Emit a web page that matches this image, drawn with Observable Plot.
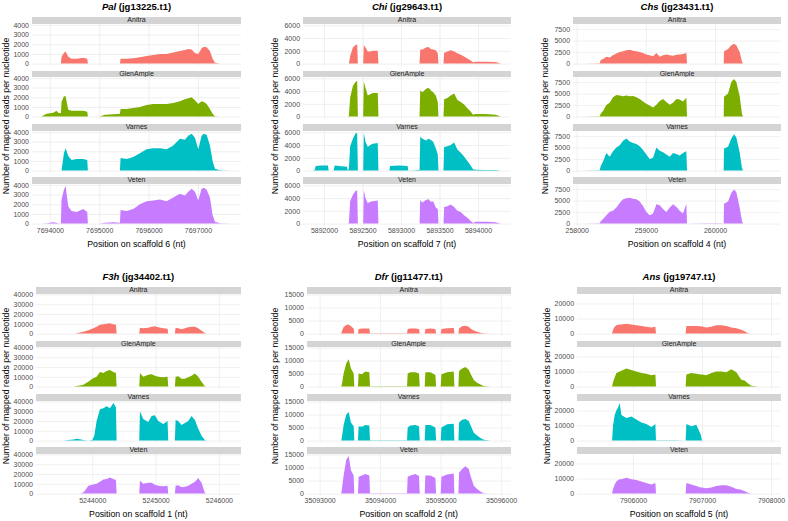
<!DOCTYPE html>
<html><head><meta charset="utf-8">
<script src="https://cdn.jsdelivr.net/npm/d3@7"></script>
<script src="https://cdn.jsdelivr.net/npm/@observablehq/plot@0.6"></script>
<style>
body{margin:0;background:#fff;}
#root{position:relative;width:788px;height:521px;overflow:hidden;background:#fff;font-family:'Liberation Sans',Arial,Helvetica,sans-serif;}
.strip{position:absolute;background:#d4d4d4;color:#1a1a1a;font-size:7px;text-align:center;overflow:hidden;}
.ttl{position:absolute;text-align:center;font-weight:bold;font-size:9.5px;color:#000;white-space:nowrap;}
.axt{position:absolute;font-size:8.75px;color:#000;white-space:nowrap;}
</style></head>
<body><div id="root"></div>
<script>
const varieties = ["Anitra", "GlenAmple", "Varnes", "Veten"];
const varietyColors = ["#F8766D", "#7CAE00", "#00BFC4", "#C77CFF"];

// ---- Pal (jg13225.t1), scaffold 6
const palPos = [7693830,7693932,7694068,7694135,7694169,7694223,7694236,7694284,7694318,7694372,7694439,7694541,7694676,7694757,7694770,7695014,7695115,7695284,7695419,7695432,7695554,7695689,7695824,7695959,7696095,7696230,7696365,7696500,7696635,7696736,7696804,7696872,7696939,7697007,7697074,7697122,7697176,7697243,7697297,7697345,7697446,7697680];
const palAnitra = [0,0,0,0,0,0,700,1100,1250,700,500,500,600,500,0,10,10,10,10,500,500,550,650,800,900,1000,1000,1150,1300,1400,1500,1450,1100,1000,1600,1750,1700,1300,500,100,20,0];
const palGlen = [0,300,400,600,400,350,1500,2100,2100,700,600,600,600,500,0,20,200,250,300,800,800,900,1000,1200,1300,1300,1300,1400,1600,1800,1900,2000,1700,1300,1600,1500,1300,800,300,50,10,0];
const palVarnes = [0,0,0,0,0,0,0,1800,2300,1500,1100,1200,1200,1100,0,20,20,20,20,1300,1200,1400,1800,2200,2300,2300,2200,2600,3300,3200,3600,3800,3400,2200,3600,3800,3700,2600,1000,200,30,0];
const palVeten = [0,50,150,100,50,0,2500,3500,3900,1800,1300,1200,1500,1200,0,20,100,150,100,1400,1300,1500,2000,2300,2400,2500,2300,2700,3100,2900,3300,3600,3300,2400,3600,3700,3500,2700,900,200,30,0];
const palXTicks = [7694000,7695000,7696000,7697000];
const palYTicks = [0,1000,2000,3000,4000];

// ---- Chi (jg29643.t1), scaffold 7
const chiPos = [5891850,5891879,5891892,5891966,5892052,5892060,5892125,5892138,5892203,5892297,5892310,5892323,5892340,5892375,5892409,5892431,5892440,5892509,5892517,5892539,5892569,5892599,5892634,5892698,5892707,5892850,5892858,5892978,5893086,5893095,5893241,5893250,5893280,5893323,5893358,5893388,5893418,5893452,5893478,5893487,5893552,5893560,5893603,5893646,5893690,5893733,5893776,5893819,5893862,5893905,5893935,5893970,5894099,5894228,5894298];
const chiAnitra = [0,0,0,0,0,0,0,0,0,0,0,0,1200,2500,2900,3000,0,0,2900,2500,1900,1900,2000,2000,0,0,0,0,0,0,0,2200,2200,2500,2600,2300,2200,2100,1600,0,0,1700,1900,2100,1900,1600,1400,1100,800,500,200,300,300,250,0];
const chiGlen = [0,0,0,20,20,20,20,20,20,20,20,100,3000,4800,5400,5600,0,0,5500,4500,3300,3500,3700,3700,0,30,30,30,30,30,30,4100,3800,4300,4500,4100,3800,3300,2300,0,0,2700,2900,3300,3600,2600,2300,1900,1300,800,300,400,400,300,0];
const chiVarnes = [0,100,700,800,800,0,0,800,700,600,0,300,3800,5000,5800,5900,0,0,5900,4500,3700,4000,4200,4300,0,0,700,800,700,0,100,5300,5000,4700,5000,4800,4500,3500,2500,0,0,3700,3800,4000,4400,3300,2800,2200,1500,800,200,150,100,100,0];
const chiVeten = [0,0,0,0,0,0,0,0,0,0,0,100,3500,4500,5100,5200,0,0,5200,4000,3200,3400,3500,3600,0,0,0,0,0,0,0,3700,3300,3700,3800,3400,3500,2500,2300,0,0,2600,2700,3000,2600,2000,1800,1300,900,400,100,300,300,200,0];
const chiXTicks = [5892000,5892500,5893000,5893500,5894000];
const chiYTicks = [0,2000,4000,6000];

// ---- Chs (jg23431.t1), scaffold 4
const chsPos = [258083,258333,258347,258381,258429,258477,258525,258573,258622,258670,258718,258766,258814,258863,258911,258959,259007,259055,259104,259152,259200,259248,259296,259345,259393,259441,259489,259537,259585,259595,259851,260091,260125,260130,260188,260236,260275,260308,260356,260390,260405,260808];
const chsAnitra = [0,100,800,1000,1500,1300,1800,2200,2500,2700,2900,3000,2800,2700,2500,2300,2000,1800,1600,2300,1500,1800,2000,1800,1700,1900,2000,2100,2300,0,0,0,0,2700,3200,4000,4300,4000,2500,400,0,0];
const chsGlen = [0,100,600,1200,2500,3000,4200,4700,4600,4400,4600,4400,4500,4200,3800,3300,2800,2400,2000,2600,3400,3800,3200,2600,3000,3800,3700,3300,4100,0,30,30,0,4300,5000,7500,8200,7500,4500,500,0,0];
const chsVarnes = [0,50,1000,2000,3800,3000,4200,5000,5500,6500,7000,6300,6000,5800,5300,4500,3500,2500,2800,5000,4300,4000,3500,3000,3800,3600,3300,3800,4200,0,20,20,0,4800,5200,7000,7900,7200,4000,500,0,0];
const chsVeten = [0,50,500,1000,1800,2600,2800,3500,4500,5300,5500,5600,5400,5300,4800,3800,2500,1800,2200,4200,4000,3200,2500,3500,4200,3600,2800,2200,4300,0,100,100,0,4300,4800,6700,7400,6800,3500,500,0,0];
const chsXTicks = [258000,259000,260000];
const chsYTicks = [0,2500,5000,7500];

// ---- F3h (jg34402.t1), scaffold 1
const f3hPos = [5243258,5243542,5243700,5243753,5243805,5243858,5243884,5243937,5244000,5244032,5244068,5244121,5244174,5244226,5244279,5244332,5244374,5244384,5244542,5244742,5244753,5244805,5244884,5244937,5244989,5245042,5245121,5245189,5245200,5245305,5245316,5245358,5245410,5245463,5245516,5245568,5245621,5245674,5245726,5245779,5245805,5246016,5246197];
const f3hAnitra = [0,0,100,300,1000,2000,2500,3500,5000,6000,7000,9000,9500,10000,10500,9500,9000,0,0,0,6000,5500,6000,7000,7500,6500,5500,5000,0,0,6000,5500,4500,5500,6500,7000,7000,5500,3000,500,0,0,0];
const f3hGlen = [0,100,200,500,1000,2000,3000,5000,8000,9000,10000,15000,14000,16000,17000,15000,14000,0,200,200,14000,10000,12000,12500,11000,10000,9500,10000,0,0,10000,10500,8000,8000,9500,11000,13500,10000,5000,300,200,100,0];
const f3hVarnes = [0,0,1000,2000,1500,500,300,200,500,5000,20000,32000,33000,35000,33000,38500,34000,0,200,200,30000,22000,19000,25000,26000,20000,17000,20000,0,0,21000,20000,16000,18000,20000,25000,21000,12000,5000,500,100,0,0];
const f3hVeten = [0,0,0,0,0,1000,3000,8000,9000,9500,10000,12000,14500,15000,16500,15000,14000,0,0,0,13000,10000,11000,11000,9000,8000,7500,8000,0,0,8000,8500,6500,7000,8000,10000,12000,16000,11000,500,0,0,0];
const f3hXTicks = [5244000,5245000,5246000];
const f3hYTicks = [0,10000,20000,30000,40000];

// ---- Dfr (jg11477.t1), scaffold 2
const dfrPos = [35092945,35093121,35093358,35093370,35093397,35093441,35093480,35093518,35093563,35093574,35093634,35093645,35093700,35093756,35093822,35093833,35094114,35094445,35094456,35094500,35094583,35094643,35094655,35094737,35094748,35094831,35094914,35094925,35095002,35095013,35095107,35095217,35095228,35095294,35095305,35095355,35095410,35095465,35095493,35095548,35095603,35095658,35095713,35095824,35096010];
const dfrAnitra = [0,0,0,1000,2500,3300,3500,2800,2000,0,0,1800,2000,2000,2000,100,100,100,1800,2000,2000,1800,0,0,1800,2000,1800,0,0,1800,2100,2200,0,0,2000,2800,3000,2600,2000,1200,700,300,100,0,0];
const dfrGlen = [0,0,0,1000,5000,9000,10500,7000,5000,0,0,5000,4800,5800,5500,100,100,100,5000,5500,5500,5000,0,0,5500,5500,4500,0,0,4800,5500,5800,0,0,6000,7000,7500,6500,5000,2500,1500,800,200,0,0];
const dfrVarnes = [0,0,0,1500,6000,10000,11000,7000,5500,0,0,5500,5300,6000,5800,100,100,100,5000,5800,6000,5500,0,0,6000,6000,5000,0,0,5000,6300,6500,0,0,7000,8000,8300,7500,6000,3000,2000,1000,300,0,0];
const dfrVeten = [0,0,0,2000,7000,13000,14500,9000,7000,0,0,6500,7000,7500,7000,100,100,100,6500,7000,7500,6800,0,0,7000,7000,6000,0,0,6500,7300,7700,0,0,8000,9500,10500,9500,7000,3000,1800,800,100,0,0];
const dfrXTicks = [35093000,35094000,35095000,35096000];
const dfrYTicks = [0,5000,10000,15000];

// ---- Ans (jg19747.t1), scaffold 5
const ansPos = [7905322,7905696,7905710,7905734,7905758,7905783,7905807,7905831,7905903,7905976,7906048,7906121,7906193,7906266,7906324,7906333,7906604,7906763,7906773,7906845,7906918,7906981,7907000,7907063,7907135,7907208,7907280,7907353,7907425,7907498,7907570,7907618,7907667,7907715,7907812,7908002];
const ansAnitra = [0,0,2500,4500,5500,5800,6000,6000,6500,6000,5500,5000,4500,4000,4500,0,0,0,5000,5000,5000,4800,4700,4000,4500,5500,5500,5000,4000,3500,2500,1500,300,0,0,0];
const ansGlen = [0,0,3000,6000,9000,9500,10000,10500,12000,11000,10000,9000,8500,7500,8000,0,100,100,8000,9000,8500,8000,8000,7500,9000,10000,10000,9500,11500,9500,4500,4000,2000,500,100,0];
const ansVarnes = [0,0,10000,17000,20000,22000,25000,17000,15000,16000,14000,12000,11000,9000,11000,200,300,0,11000,9500,10500,4000,0,0,0,0,0,0,0,0,0,0,0,0,0,0];
const ansVeten = [0,0,3000,6000,8000,9000,9500,9500,10500,9500,9000,8000,7000,6000,7000,0,0,0,7000,6000,5000,4000,4000,3500,4000,5000,5500,5500,4500,3000,2500,1500,500,0,0,0];
const ansXTicks = [7906000,7907000,7908000];
const ansYTicks = [0,10000,20000];

const geneNames = ["Pal", "Chi", "Chs", "F3h", "Dfr", "Ans"];
const geneIds = ["jg13225.t1", "jg29643.t1", "jg23431.t1", "jg34402.t1", "jg11477.t1", "jg19747.t1"];
const scaffolds = [6, 7, 4, 1, 2, 5];

const genes = [
  {pos: palPos, vals: [palAnitra, palGlen, palVarnes, palVeten], xt: palXTicks, yt: palYTicks},
  {pos: chiPos, vals: [chiAnitra, chiGlen, chiVarnes, chiVeten], xt: chiXTicks, yt: chiYTicks},
  {pos: chsPos, vals: [chsAnitra, chsGlen, chsVarnes, chsVeten], xt: chsXTicks, yt: chsYTicks},
  {pos: f3hPos, vals: [f3hAnitra, f3hGlen, f3hVarnes, f3hVeten], xt: f3hXTicks, yt: f3hYTicks},
  {pos: dfrPos, vals: [dfrAnitra, dfrGlen, dfrVarnes, dfrVeten], xt: dfrXTicks, yt: dfrYTicks},
  {pos: ansPos, vals: [ansAnitra, ansGlen, ansVarnes, ansVeten], xt: ansXTicks, yt: ansYTicks}
];

// layout (panel left/right edges, y-title x)
const layout = [
  {L: 32, R: 241, yx: 6, row: 0},
  {L: 303.3, R: 510.7, yx: 275, row: 0},
  {L: 573.3, R: 780.7, yx: 545, row: 0},
  {L: 36, R: 240.7, yx: 6, row: 1},
  {L: 306.7, R: 510.7, yx: 275, row: 1},
  {L: 577.3, R: 780.7, yx: 547, row: 1}
];

const FONT = "'Liberation Sans', Arial, Helvetica, sans-serif";
const ROW_H = 270, STRIP_TOP = 17.3, PERIOD = 53.3, STRIP_H = 6.7, PANEL_H = 41.5, ML = 36, XAX = 14;
const root = document.getElementById("root");
const fmt = d => String(d);

function div(cls, html, css) {
  const e = document.createElement("div");
  e.className = cls;
  e.innerHTML = html;
  Object.assign(e.style, css);
  root.appendChild(e);
  return e;
}

genes.forEach((g, gi) => {
  const lay = layout[gi];
  const RY = lay.row * ROW_H;
  const W = lay.R - lay.L;
  const ymax = d3.max(g.vals.flat());
  const yDomain = [-0.05 * ymax, 1.05 * ymax];
  const [x0, x1] = d3.extent(g.pos);
  const xpad = 0.05 * (x1 - x0);
  const xDomain = [x0 - xpad, x1 + xpad];

  div("ttl", `<i>${geneNames[gi]}</i> (${geneIds[gi]})`, {left: lay.L + "px", width: W + "px", top: (RY + 1) + "px", lineHeight: "12px"});

  varieties.forEach((v, k) => {
    const top = RY + STRIP_TOP + k * PERIOD;
    div("strip", v, {left: lay.L + "px", width: W + "px", top: top + "px", height: STRIP_H + "px", lineHeight: STRIP_H + "px"});
    const vals = g.vals[k];
    const n = Math.min(vals.length, g.pos.length);
    const data = d3.range(n).map(i => ({pos: g.pos[i], value: vals[i]}));
    const last = k === varieties.length - 1;
    const svg = Plot.plot({
      width: W + ML,
      height: PANEL_H + (last ? XAX : 0),
      marginLeft: ML, marginRight: 0, marginTop: 0, marginBottom: last ? XAX : 0,
      style: {fontFamily: FONT, fontSize: "7px", color: "#4d4d4d", background: "transparent", overflow: "visible"},
      x: {domain: xDomain, axis: null, label: null},
      y: {domain: yDomain, axis: null, label: null},
      marks: [
        Plot.gridX(g.xt, {stroke: "#e6e6e6", strokeOpacity: 1, strokeWidth: 0.6}),
        Plot.gridY(g.yt, {stroke: "#e6e6e6", strokeOpacity: 1, strokeWidth: 0.6}),
        Plot.areaY(data, {x: "pos", y: "value", fill: varietyColors[k], fillOpacity: 1}),
        Plot.axisY(g.yt, {tickSize: 0, tickPadding: 3.5, tickFormat: fmt, fontSize: 7, label: null}),
        last ? Plot.axisX(g.xt, {tickSize: 0, tickPadding: 2.5, tickFormat: fmt, fontSize: 7, label: null}) : null
      ]
    });
    svg.style.position = "absolute";
    svg.style.left = (lay.L - ML) + "px";
    svg.style.top = (top + STRIP_H) + "px";
    root.appendChild(svg);
  });

  div("axt", `Position on scaffold ${scaffolds[gi]} (nt)`, {left: lay.L + "px", width: W + "px", textAlign: "center", top: (RY + 238.5) + "px", lineHeight: "11px"});
  div("axt", "Number of mapped reads per nucleotide", {left: lay.yx + "px", top: (RY + 116) + "px", transform: "translate(-50%,-50%) rotate(-90deg)", lineHeight: "11px"});
});
</script>
</body></html>
